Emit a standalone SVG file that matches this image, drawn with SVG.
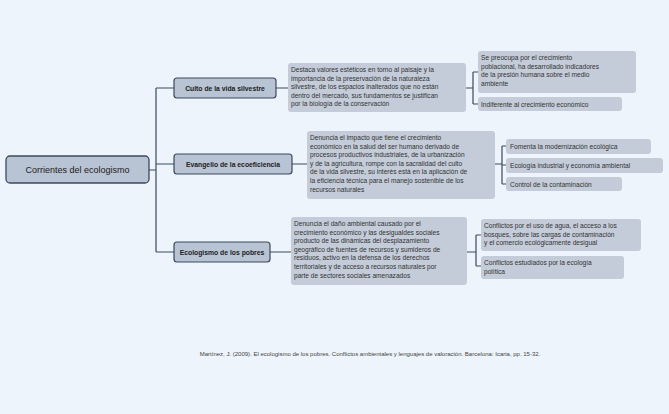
<svg xmlns="http://www.w3.org/2000/svg" width="669" height="414" viewBox="0 0 669 414">
<style>
text{font-family:"Liberation Sans",Arial,sans-serif;fill:#333}
.main{fill:#b8c3d3;stroke:#3b4a5e;stroke-width:1.3}
.br{fill:#b8c3d3;stroke:#3b4a5e;stroke-width:1.2}
.box{fill:#c4ccd9}
.t{font-size:6.6px}
.b{font-size:6.8px;font-weight:bold;fill:#222}
.c{fill:none;stroke:#3b4a5e;stroke-width:1.2}
</style>
<rect width="669" height="414" fill="#eef4fb"/>
<g id="connectors">
<path class="c" d="M149 170H156M156 88V252M156 88H174M156 164H174M156 252H174"/>
<path class="c" d="M276 88H288M292 164H307M270 252H291"/>
<path class="c" d="M466 88H473M473 72V104M473 72H478M473 104H478"/>
<path class="c" d="M495 164H502M502 146V184M502 146H506M502 165H506M502 184H506"/>
<path class="c" d="M467 252H476M476 235V266M476 235H481M476 266H481"/>
</g>
<g id="root"><rect class="main" x="6" y="156" width="143" height="27" rx="4"/><text x="77.5" y="173" text-anchor="middle" style="font-size:9px;fill:#222">Corrientes del ecologismo</text></g>
<g id="culto"><rect class="br" x="174" y="78" width="102" height="20" rx="3"/><text class="b" x="225" y="90.5" text-anchor="middle">Culto de la vida silvestre</text></g>
<g id="evangelio"><rect class="br" x="174" y="154" width="118" height="20" rx="3"/><text class="b" x="233" y="166.5" text-anchor="middle">Evangelio de la ecoeficiencia</text></g>
<g id="pobres"><rect class="br" x="174" y="242" width="96" height="20" rx="3"/><text class="b" x="222" y="254.5" text-anchor="middle">Ecologismo de los pobres</text></g>
<g id="d1"><rect class="box" x="288" y="63" width="178" height="49" rx="3"/><text class="t" x="291" y="72"><tspan x="291">Destaca valores estéticos en torno al paisaje y la</tspan><tspan x="291" dy="8.6">importancia de la preservación de la naturaleza</tspan><tspan x="291" dy="8.6">silvestre, de los espacios inalterados que no están</tspan><tspan x="291" dy="8.6">dentro del mercado, sus fundamentos se justifican</tspan><tspan x="291" dy="8.6">por la biología de la conservación</tspan></text></g>
<g id="d2"><rect class="box" x="307" y="131" width="188" height="68" rx="3"/><text class="t" x="310" y="140"><tspan x="310">Denuncia el impacto que tiene el crecimiento</tspan><tspan x="310" dy="8.6">económico en la salud del ser humano derivado de</tspan><tspan x="310" dy="8.6">procesos productivos industriales, de la urbanización</tspan><tspan x="310" dy="8.6">y de la agricultura, rompe con la sacralidad del culto</tspan><tspan x="310" dy="8.6">de la vida silvestre, su interés está en la aplicación de</tspan><tspan x="310" dy="8.6">la eficiencia técnica para el manejo sostenible de los</tspan><tspan x="310" dy="8.6">recursos naturales</tspan></text></g>
<g id="d3"><rect class="box" x="291" y="217" width="176" height="68" rx="3"/><text class="t" x="294" y="226"><tspan x="294">Denuncia el daño ambiental causado por el</tspan><tspan x="294" dy="8.6">crecimiento económico y las desigualdes sociales</tspan><tspan x="294" dy="8.6">producto de las dinámicas del desplazamiento</tspan><tspan x="294" dy="8.6">geográfico de fuentes de recursos y sumideros de</tspan><tspan x="294" dy="8.6">residuos, activo en la defensa de los derechos</tspan><tspan x="294" dy="8.6">territoriales y de acceso a recursos naturales por</tspan><tspan x="294" dy="8.6">parte de sectores sociales amenazados</tspan></text></g>
<g id="l1"><rect class="box" x="478" y="51" width="158" height="42" rx="3"/><text class="t" x="481" y="60"><tspan x="481">Se preocupa por el crecimiento</tspan><tspan x="481" dy="8.6">poblacional, ha desarrollado indicadores</tspan><tspan x="481" dy="8.6">de la presión humana sobre el medio</tspan><tspan x="481" dy="8.6">ambiente</tspan></text></g>
<g id="l2"><rect class="box" x="478" y="97" width="144" height="14" rx="3"/><text class="t" x="481" y="106.5">Indiferente al crecimiento económico</text></g>
<g id="l3"><rect class="box" x="506" y="139" width="145" height="15" rx="3"/><text class="t" x="510" y="149">Fomenta la modernización ecológica</text></g>
<g id="l4"><rect class="box" x="506" y="158" width="157" height="15" rx="3"/><text class="t" x="510" y="168">Ecología industrial y economía ambiental</text></g>
<g id="l5"><rect class="box" x="506" y="177" width="116" height="14" rx="3"/><text class="t" x="510" y="186.5">Control de la contaminación</text></g>
<g id="l6"><rect class="box" x="481" y="219" width="160" height="32" rx="3"/><text class="t" x="484" y="228"><tspan x="484">Conflictos por el uso de agua, el acceso a los</tspan><tspan x="484" dy="8.6">bosques, sobre las cargas de contaminación</tspan><tspan x="484" dy="8.6">y el comercio ecológicamente desigual</tspan></text></g>
<g id="l7"><rect class="box" x="481" y="256" width="143" height="23" rx="3"/><text class="t" x="484" y="265"><tspan x="484">Conflictos estudiados por la ecología</tspan><tspan x="484" dy="8.6">política</tspan></text></g>
<text x="370" y="356" text-anchor="middle" style="font-size:6px;fill:#444">Martínez, J. (2009). El ecologismo de los pobres. Conflictos ambientales y lenguajes de valoración. Barcelona: Icaria, pp. 15-32.</text>
</svg>
